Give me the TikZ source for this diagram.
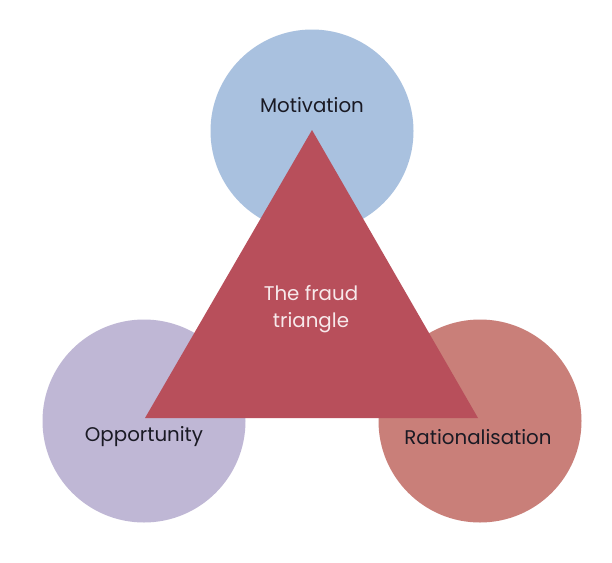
\documentclass[tikz,border=0pt]{standalone}
\usepackage{fontspec}
\setmainfont{Poppins}
\definecolor{cmot}{HTML}{A9C1DF}
\definecolor{copp}{HTML}{BFB7D5}
\definecolor{crat}{HTML}{C97F79}
\definecolor{ctri}{HTML}{B84F5B}
\definecolor{ctxt}{HTML}{1A1A24}
\definecolor{cwt}{HTML}{F7E9EB}
\begin{document}
\begin{tikzpicture}[x=1pt,y=-1pt,
  blob/.style={circle,inner sep=0pt,minimum size=203pt,draw=none},
  lbl/.style={font=\fontsize{19.8}{22}\selectfont,text=ctxt,inner sep=0pt},
  tlbl/.style={font=\fontsize{19.8}{27}\selectfont,text=cwt,align=center,inner sep=0pt}]
\useasboundingbox (0,0) rectangle (612,562);
\fill[white] (0,0) rectangle (612,562);
\node[blob,fill=cmot] (mot) at (312,131) {};
\node[blob,fill=copp] (opp) at (144,421) {};
\node[blob,fill=crat] (rat) at (480,421) {};
\coordinate (apex) at (312,130);
\coordinate (bl) at (145,418);
\coordinate (br) at (478,418);
\fill[ctri] (apex) -- (bl) -- (br) -- cycle;
\node[lbl] (tmot) at (312,105) {Motivation};
\node[lbl] (topp) at (144,437) {Opportunity};
\node[lbl] (trat) at (478,437) {Rationalisation};
\node[tlbl] (ttri) at (311,309) {The fraud\\triangle};
\end{tikzpicture}
\end{document}
